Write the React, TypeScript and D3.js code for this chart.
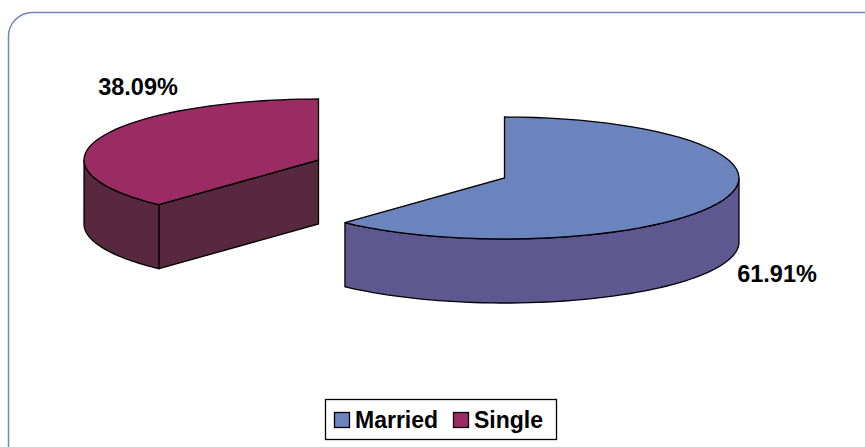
import { useMemo } from "react";
import * as d3 from "d3";

const categories = ["Married", "Single"];
const shares = [61.91, 38.09];

const width = 865;
const height = 447;
const radiusX = 234.5;
const radiusY = 61;
const depth = 64;
const font = "'Liberation Sans', Arial, sans-serif";

// each slice is pulled away from the middle, so it has its own centre
const centres = [
  { x: 504.5, y: 178 },
  { x: 318.5, y: 160 },
];
const topColors = ["#6c84bd", "#9a2b63"];
const sideColors = ["#5f5890", "#58283f"];
const labelPos = [
  { x: 777, y: 282 },
  { x: 138, y: 95 },
];
const legendX = [334, 453];

const App = () => {
  const slices = useMemo(() => d3.pie<number>().sort(null)(shares), []);

  const rx = d3.scaleLinear().domain([0, 1]).range([0, radiusX]);
  const ry = d3.scaleLinear().domain([0, 1]).range([0, radiusY]);

  const point = (a: number, c: { x: number; y: number }, dy = 0): [number, number] => [
    c.x + rx(Math.sin(a)),
    c.y - ry(Math.cos(a)) + dy,
  ];

  const arcPoints = (a0: number, a1: number, c: { x: number; y: number }, dy = 0) =>
    d3.range(0, 61).map((i) => point(a0 + ((a1 - a0) * i) / 60, c, dy));

  const line = d3.line();

  const topPath = (i: number) => {
    const s = slices[i];
    const c = centres[i];
    return line([[c.x, c.y], ...arcPoints(s.startAngle, s.endAngle, c)]) + "Z";
  };

  // outer wall, only the part of the rim facing the viewer (90deg to 270deg)
  const rimPath = (i: number) => {
    const s = slices[i];
    const c = centres[i];
    const a0 = Math.max(s.startAngle, Math.PI / 2);
    const a1 = Math.min(s.endAngle, (3 * Math.PI) / 2);
    return (
      line([...arcPoints(a0, a1, c), ...arcPoints(a1, a0, c, depth)]) + "Z"
    );
  };

  // the cut face of the single slice shows under its front edge
  const cutPath = (i: number) => {
    const s = slices[i];
    const c = centres[i];
    const p = point(s.startAngle, c);
    return line([p, [c.x, c.y], [c.x, c.y + depth], [p[0], p[1] + depth]]) + "Z";
  };

  return (
    <svg
      width={width}
      height={height}
      style={{ position: "absolute", left: 0, top: 0, background: "#fff" }}
    >
      <rect
        x={8.5}
        y={12.5}
        width={900}
        height={500}
        rx={24}
        ry={24}
        fill="none"
        stroke="#6f87bb"
        strokeWidth={1.5}
      />

      {/* single */}
      <path d={cutPath(1)} fill={sideColors[1]} stroke="#000" strokeWidth={1.3} />
      <path d={rimPath(1)} fill={sideColors[1]} stroke="#000" strokeWidth={1.3} />
      <path d={topPath(1)} fill={topColors[1]} stroke="#000" strokeWidth={1.3} />

      {/* married */}
      <path d={rimPath(0)} fill={sideColors[0]} stroke="#000" strokeWidth={1.3} />
      <path d={topPath(0)} fill={topColors[0]} stroke="#000" strokeWidth={1.3} />

      {shares.map((v, i) => (
        <text
          key={categories[i]}
          x={labelPos[i].x}
          y={labelPos[i].y}
          textAnchor="middle"
          fontFamily={font}
          fontWeight="bold"
          fontSize={23.5}
          fill="#000"
        >
          {d3.format(".2f")(v)}%
        </text>
      ))}

      <rect x={325.5} y={399.5} width={231} height={40} fill="#fff" stroke="#000" strokeWidth={1.3} />
      {categories.map((name, i) => (
        <g key={name}>
          <rect
            x={legendX[i] + 0.5}
            y={412.5}
            width={15}
            height={15}
            fill={topColors[i]}
            stroke="#000"
            strokeWidth={1.3}
          />
          <text
            x={legendX[i] + 21}
            y={428}
            fontFamily={font}
            fontWeight="bold"
            fontSize={23}
            fill="#000"
          >
            {name}
          </text>
        </g>
      ))}
    </svg>
  );
};

export default App;
